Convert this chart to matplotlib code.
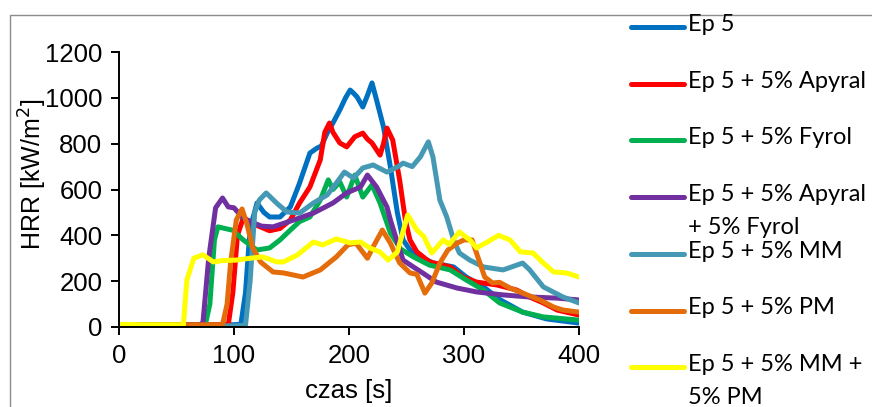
import numpy as np
import matplotlib
matplotlib.use('Agg')
import matplotlib.pyplot as plt
from matplotlib.lines import Line2D
from matplotlib.patches import Rectangle

# HRR curves (time [s], HRR [kW/m2])
ep5_t = [0, 20, 40, 60, 80, 100, 106, 110, 114, 120, 126, 131, 140, 149, 157, 166, 172, 176, 181, 186,
         192, 197, 201, 204, 207, 212, 216, 220, 224, 230, 236, 242, 247, 253, 262, 273, 291, 302, 317,
         331, 351, 372, 400]
ep5_v = [8, 10, 10, 10, 10, 10, 12, 150, 430, 541, 500, 480, 480, 524, 628, 759, 780, 790, 846, 890,
         947, 1000, 1034, 1020, 1004, 960, 1010, 1065, 990, 873, 698, 500, 380, 337, 306, 280, 262, 218, 175,
         120, 65, 35, 17]

apyral_t = [0, 40, 80, 95, 99, 103, 108, 114, 120, 131, 140, 149, 157, 166, 175, 179, 183, 186, 192, 198,
            205, 212, 216, 220, 227, 230, 233, 238, 244, 249, 253, 259, 270, 288, 299, 311, 329, 346, 357,
            369, 381, 400]
apyral_v = [8, 10, 10, 10, 150, 400, 475, 460, 443, 420, 430, 467, 541, 611, 729, 850, 890, 850, 803, 786,
            830, 846, 820, 803, 750, 800, 868, 816, 642, 467, 380, 328, 284, 262, 218, 196, 183, 161, 131,
            105, 74, 52]

fyrol_t = [0, 40, 75, 79, 83, 86, 99, 108, 120, 131, 140, 149, 157, 166, 175, 182, 186, 192, 198, 205,
           212, 220, 227, 236, 245, 256, 270, 288, 302, 317, 331, 351, 369, 400]
fyrol_v = [8, 8, 8, 100, 380, 437, 422, 380, 336, 345, 380, 423, 460, 480, 554, 642, 600, 633, 567, 663,
           567, 620, 541, 410, 340, 306, 270, 249, 205, 161, 105, 65, 44, 30]

apfy_t = [0, 40, 70, 73, 78, 84, 90, 95, 100, 107, 114, 124, 134, 152, 169, 186, 198, 210, 216, 224,
          233, 236, 242, 247, 256, 264, 276, 294, 311, 334, 357, 381, 400]
apfy_v = [5, 6, 8, 20, 300, 520, 563, 524, 520, 480, 460, 440, 437, 467, 497, 541, 585, 611, 663, 611,
          524, 467, 370, 292, 262, 236, 196, 170, 153, 140, 131, 126, 118]

mm_t = [0, 40, 80, 100, 110, 114, 118, 122, 128, 137, 146, 157, 169, 181, 189, 196, 204, 212, 221, 233,
        242, 247, 255, 262, 269, 273, 279, 285, 291, 296, 305, 317, 334, 351, 357, 369, 386, 400]
mm_v = [5, 5, 5, 5, 8, 200, 500, 554, 585, 541, 502, 497, 541, 576, 628, 676, 650, 694, 707, 676,
        698, 715, 700, 742, 808, 742, 554, 480, 380, 323, 292, 262, 249, 279, 250, 175, 131, 105]

pm_t = [0, 40, 80, 90, 94, 97, 102, 107, 111, 116, 123, 134, 143, 160, 175, 189, 199, 206, 216, 221,
        229, 236, 244, 253, 259, 266, 272, 279, 286, 294, 300, 307, 312, 318, 325, 331, 340, 351, 366,
        378, 386, 400]
pm_v = [8, 8, 10, 10, 100, 279, 467, 515, 454, 350, 284, 240, 236, 218, 249, 306, 358, 366, 300, 350,
        423, 366, 280, 236, 230, 148, 192, 279, 336, 366, 380, 380, 306, 218, 192, 195, 170, 148, 118,
        87, 74, 65]

mmpm_t = [0, 20, 40, 56, 59, 65, 73, 82, 90, 102, 114, 125, 137, 143, 155, 169, 177, 189, 201, 210,
          218, 227, 234, 242, 251, 259, 265, 272, 282, 287, 296, 305, 311, 320, 330, 340, 349, 360, 369,
          378, 389, 400]
mmpm_v = [12, 10, 10, 10, 205, 300, 315, 284, 290, 292, 300, 306, 284, 284, 314, 371, 358, 384, 367, 371,
          345, 327, 292, 327, 489, 423, 395, 323, 380, 360, 415, 380, 345, 370, 400, 380, 328, 323, 279,
          240, 236, 218]

labels = ['Ep 5', 'Ep 5 + 5% Apyral', 'Ep 5 + 5% Fyrol', 'Ep 5 + 5% Apyral\n+ 5% Fyrol',
          'Ep 5 + 5% MM', 'Ep 5 + 5% PM', 'Ep 5 + 5% MM +\n5% PM']
colors = ['#0070C0', '#FF0000', '#00B050', '#7030A0', '#4599B4', '#E46C0A', '#FFFF00']
series = [(ep5_t, ep5_v), (apyral_t, apyral_v), (fyrol_t, fyrol_v), (apfy_t, apfy_v),
          (mm_t, mm_v), (pm_t, pm_v), (mmpm_t, mmpm_v)]

W, H = 872, 407
fig = plt.figure(figsize=(W / 100, H / 100), dpi=100)
ax = fig.add_axes([119 / W, 1 - 327 / H, 460 / W, 275 / H])

for (t, v), c in zip(series, colors):
    ax.plot(t, v, color=c, lw=3.6, solid_capstyle='round', solid_joinstyle='round')

ax.set_xlim(0, 400)
ax.set_ylim(0, 1200)
ax.set_xticks([0, 100, 200, 300, 400])
ax.set_yticks(np.arange(0, 1201, 200))
for s in ['top', 'right']:
    ax.spines[s].set_visible(False)
for s in ['left', 'bottom']:
    ax.spines[s].set_linewidth(1.4)
ax.tick_params(direction='out', length=6, width=1.4, labelsize=18.5, pad=6)
for lab in ax.get_xticklabels() + ax.get_yticklabels():
    lab.set_fontfamily('Liberation Sans')
ax.set_xlabel('czas [s]', fontsize=18.5, family='Liberation Sans')
ax.set_ylabel('HRR [kW/m$^2$]', fontsize=18, family='Liberation Sans')
ax.xaxis.set_label_coords(0.5, -0.19)
ax.yaxis.set_label_coords(-0.153, 0.556)

# outer chart frame (clipped by the image edge)
fig.add_artist(Rectangle((10 / W, -0.2), 1.2, 1 - 15 / H + 0.2, transform=fig.transFigure,
                         fill=False, edgecolor='#8c8c8c', lw=1.0))

# legend drawn by hand to keep Excel's spacing
for i, (lab, c) in enumerate(zip(labels, colors)):
    y = 1 - (27 + i * 56.7) / H
    fig.add_artist(Line2D([631 / W, 684 / W], [y, y], transform=fig.transFigure,
                          color=c, lw=3.6, solid_capstyle='round'))
    fig.text(688 / W, y + 13 / H, lab, ha='left', va='top', fontsize=17,
             family='Lato', linespacing=1.72)

fig.savefig('out.png', dpi=100)
